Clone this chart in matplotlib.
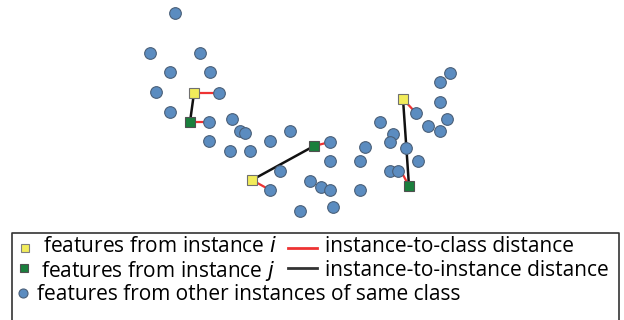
import matplotlib
matplotlib.use("Agg")
import matplotlib.pyplot as plt

# blue feature points (other instances of same class)
blue_x = [175, 150, 200, 170, 210, 156, 219, 170, 209, 232, 240, 245, 209, 230, 250, 270, 290,
          330, 330, 280, 270, 310, 321, 330, 300, 333, 360, 365, 360, 380, 393, 390, 390, 398,
          450, 440, 416, 440, 447, 428, 440, 406, 418]
blue_y = [13, 53, 53, 72, 72, 92, 93, 112, 122, 119, 131, 133, 141, 151, 151, 141, 131,
          142, 161, 171, 190, 181, 187, 190, 211, 207, 161, 147, 190, 122, 134, 142, 171, 171,
          73, 82, 113, 102, 119, 126, 131, 148, 161]

# instance i (yellow) and instance j (green) features
yellow_x = [194, 252, 403]
yellow_y = [93, 180, 99]
green_x = [190, 314, 409]
green_y = [122, 146, 186]

# nearest class features (instance-to-class distance targets)
red_from_x = [194, 190, 252, 314, 403, 409]
red_from_y = [93, 122, 180, 146, 99, 186]
red_to_x = [219, 209, 270, 330, 416, 401]
red_to_y = [93, 122, 190, 142, 113, 171]

legend_labels = ["features from instance $\\mathit{i}$",
                 "features from instance $\\mathit{j}$",
                 "features from other instances of same class",
                 "instance-to-class distance",
                 "instance-to-instance distance"]

fig = plt.figure(figsize=(6.24, 3.2), dpi=100)
ax = fig.add_axes([0, 0, 1, 1])
ax.set_xlim(0, 624)
ax.set_ylim(320, 0)
ax.axis("off")

blue_c = "#5b8cc0"
edge_c = "#4a5f78"
yel_c = "#f2ec5a"
grn_c = "#1a7f3c"

for x0, y0, x1, y1 in zip(red_from_x, red_from_y, red_to_x, red_to_y):
    ax.plot([x0, x1], [y0, y1], color="#ee3333", lw=1.6, zorder=1)
for x0, y0, x1, y1 in zip(yellow_x, yellow_y, green_x, green_y):
    ax.plot([x0, x1], [y0, y1], color="#111111", lw=1.8, zorder=1)

ax.plot(blue_x, blue_y, "o", ms=8.4, mfc=blue_c, mec=edge_c, mew=0.8, ls="none", zorder=2)
ax.plot(yellow_x, yellow_y, "s", ms=7.5, mfc=yel_c, mec="#707070", mew=0.8, ls="none", zorder=3)
ax.plot(green_x, green_y, "s", ms=7.5, mfc=grn_c, mec="#505050", mew=0.8, ls="none", zorder=3)

# legend box
ax.plot([12, 12, 619, 619], [321, 233, 233, 321], color="#333333", lw=1.2, zorder=4,
        clip_on=False)

fam = ["Open Sans", "DejaVu Sans"]
fs = 15
rows = [247, 271, 295]
ax.plot([25], [248], "s", ms=6, mfc=yel_c, mec="#808080", mew=0.8)
ax.plot([24], [268], "s", ms=6, mfc=grn_c, mec="#505050", mew=0.8)
ax.plot([23], [293], "o", ms=6.5, mfc=blue_c, mec=edge_c, mew=0.8)

ax.text(43, rows[0], legend_labels[0], fontsize=fs, family=fam, va="center")
ax.text(41, rows[1], legend_labels[1], fontsize=fs, family=fam, va="center")
ax.text(37, rows[2], legend_labels[2], fontsize=fs, family=fam, va="center")
ax.plot([288, 317], [248, 248], color="#ee3333", lw=2)
ax.plot([288, 317], [268, 268], color="#333333", lw=2)
ax.text(325, rows[0], legend_labels[3], fontsize=fs, family=fam, va="center")
ax.text(325, rows[1], legend_labels[4], fontsize=fs, family=fam, va="center")

fig.savefig("out.png", dpi=100)
